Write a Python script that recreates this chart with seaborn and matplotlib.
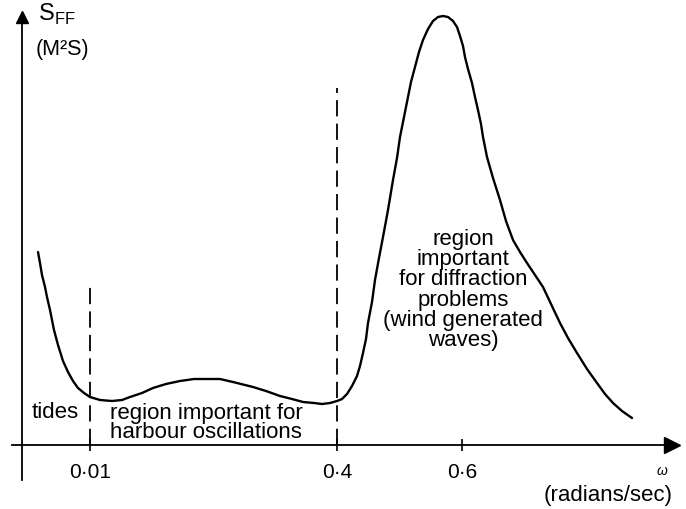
import matplotlib
matplotlib.use("Agg")
import matplotlib.pyplot as plt
import seaborn as sns
import pandas as pd

# Schematic spectrum S_FF(omega) (schematic x units, S in arbitrary units)
omega_pos = [16, 18, 20, 23, 25, 28, 32, 36, 41, 46, 51, 56, 62, 68, 78, 90, 100, 108, 120, 131,
             144, 158, 172, 185, 198, 211, 223, 231, 244, 258, 270, 281, 292, 300, 308, 315, 320, 325,
             330, 335, 338, 341, 344, 346, 350, 353, 357, 361, 366, 371, 375, 378, 382, 386, 389, 393,
             397, 401, 406, 411, 416, 421, 426, 431, 435, 438, 441, 443, 446, 450, 453, 456, 459, 461,
             465, 471, 478, 484, 491, 498, 505, 513, 521, 529, 538, 546, 555, 565, 575, 583, 591, 600, 610]
s_ff = [193, 182, 170, 158, 148, 135, 115, 100, 84, 73, 64, 57, 52, 48, 45, 44, 45, 48, 52, 57,
        61, 64, 66, 66, 66, 63, 60, 58, 54, 49, 46, 43, 42, 41, 42, 44, 46, 51,
        59, 69, 79, 92, 106, 122, 143, 165, 187, 208, 235, 265, 287, 308, 328, 348, 363, 378,
        393, 405, 416, 424, 428, 429, 428, 424, 418, 409, 399, 388, 376, 362, 348, 335, 321, 308,
        288, 267, 245, 224, 205, 193, 182, 170, 158, 141, 122, 107, 92, 76, 62, 51, 42, 34, 27]

tick_pos = [68, 315, 440]
tick_labels = ["0·01", "0·4", "0·6"]
divider_pos = [68, 315]
divider_top = [160, 357]

df = pd.DataFrame({"omega": omega_pos, "S": s_ff})

sns.set_theme(style="white")
plt.rcParams["font.family"] = ["Liberation Sans", "DejaVu Sans"]
plt.rcParams["text.color"] = "black"
plt.rcParams["xtick.color"] = "black"

fig = plt.figure(figsize=(6.86, 5.09), dpi=100)
ax = fig.add_axes([0, 0, 1, 1])
ax.set_facecolor("white")

sns.lineplot(data=df, x="omega", y="S", ax=ax, color="black", linewidth=1.7, sort=False,
             solid_joinstyle="round", solid_capstyle="round")

for xp, top in zip(divider_pos, divider_top):
    ax.plot([xp, xp], [0, top], color="black", linewidth=1.3, linestyle=(0, (9, 4)))

ax.set_xlim(-22, 664)
ax.set_ylim(-64, 445)

# axes through origin
for side in ["top", "right"]:
    ax.spines[side].set_visible(False)
ax.spines["bottom"].set_position(("data", 0))
ax.spines["left"].set_position(("data", 0))
ax.spines["bottom"].set_bounds(-10, 645)
ax.spines["left"].set_bounds(-35, 425)
for side in ["bottom", "left"]:
    ax.spines[side].set_color("black")
    ax.spines[side].set_linewidth(1.3)
ax.plot([650], [0], marker=">", color="black", markersize=11, clip_on=False)
ax.plot([0], [428], marker="^", color="black", markersize=9, clip_on=False)

ax.set_xticks(tick_pos)
ax.set_xticklabels(tick_labels)
ax.set_yticks([])
ax.tick_params(axis="x", direction="inout", length=8, width=1.2, color="black",
               labelcolor="black", labelsize=15, pad=9, bottom=True)
ax.set_xlabel("")
ax.set_ylabel("")

fs = 16
ax.text(16, 431, r"S$_{\mathregular{FF}}$", fontsize=17, ha="left", va="center")
ax.text(14, 396, "(M²S)", fontsize=15.5, ha="left", va="center")
ax.text(33, 32, "tides", fontsize=fs, ha="center", va="center")
ax.text(88, 22, "region important for\nharbour oscillations", fontsize=fs,
        ha="left", va="center", linespacing=0.92)
ax.text(441, 155, "region\nimportant\nfor diffraction\nproblems\n(wind generated\nwaves)",
        fontsize=fs, ha="center", va="center", linespacing=0.95)
ax.text(640, -26, "ω", fontsize=10, ha="center", va="center", style="italic")
ax.text(586, -51, "(radians/sec)", fontsize=fs, ha="center", va="center")

fig.savefig("out.png", dpi=100)
